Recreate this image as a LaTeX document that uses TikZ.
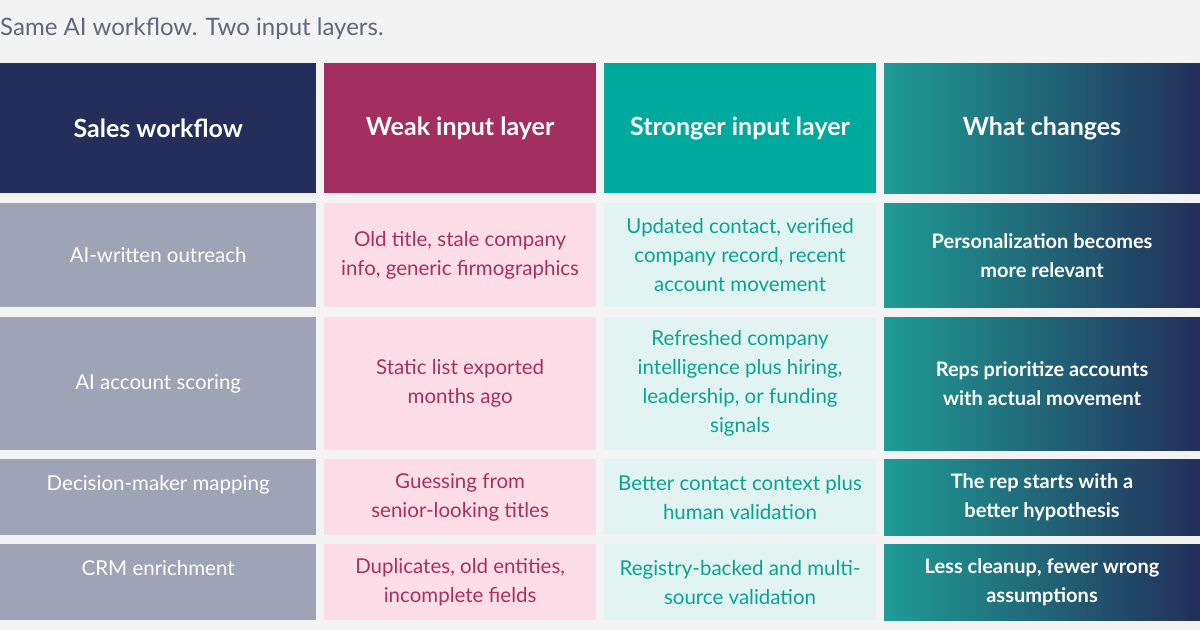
\documentclass[tikz,border=0pt]{standalone}
\usepackage{fontspec}
\setmainfont{Lato}
\usepackage{xcolor}
\definecolor{pagebg}{HTML}{F3F3F3}
\definecolor{titlegray}{HTML}{5F6680}
\definecolor{navy}{HTML}{232F5A}
\definecolor{berry}{HTML}{A32E60}
\definecolor{teal}{HTML}{00A99D}
\definecolor{tealmid}{HTML}{1F9C94}
\definecolor{rowgray}{HTML}{9EA3B5}
\definecolor{pinkbg}{HTML}{FDDDE8}
\definecolor{pinktxt}{HTML}{A8305F}
\definecolor{mintbg}{HTML}{E2F4F2}
\definecolor{minttxt}{HTML}{0AA393}

\tikzset{
  cell/.style={inner sep=0pt, align=center, font=\fontsize{20.5}{29}\selectfont},
  head/.style={cell, text=white, font=\fontsize{25}{30}\selectfont\bfseries},
  gradcell/.style={cell, text=white, left color=tealmid, right color=navy, font=\fontsize{20}{29}\selectfont\bfseries},
}
% cell: #1 name, #2 style, #3 x0, #4 x1, #5 y0, #6 y1, #7 text
\newcommand{\gridcell}[7]{%
  \node[#2, minimum width=#4-#3, minimum height=#6-#5,
        anchor=north west] (#1) at (#3,-#5) {#7};}

\begin{document}
\begin{tikzpicture}[x=1pt, y=1pt]
    \fill[pagebg] (0,0) rectangle (1200,-630);
    \node[anchor=west, text=titlegray, font=\fontsize{24}{28}\selectfont, inner sep=0pt] (title) at (0,-29) {Same AI workflow. Two input layers.};

    % header row
    \gridcell{h1}{head, fill=navy}{0}{316}{63}{193}{Sales workflow}
    \gridcell{h2}{head, fill=berry}{324}{596}{63}{193}{Weak input layer}
    \gridcell{h3}{head, fill=teal}{604}{876}{63}{193}{Stronger input layer}
    \gridcell{h4}{head, left color=tealmid, right color=navy}{884}{1200}{63}{193}{What changes}

    % row 1
    \gridcell{a1}{cell, fill=rowgray, text=white}{0}{316}{203}{307}{AI-written outreach}
    \gridcell{a2}{cell, fill=pinkbg, text=pinktxt}{324}{596}{203}{307}{Old title, stale company\\ info, generic firmographics}
    \gridcell{a3}{cell, fill=mintbg, text=minttxt}{604}{876}{203}{307}{Updated contact, verified\\ company record, recent\\ account movement}
    \gridcell{a4}{gradcell}{884}{1200}{203}{307}{Personalization becomes\\ more relevant}

    % row 2
    \gridcell{b1}{cell, fill=rowgray, text=white}{0}{316}{317}{450}{AI account scoring}
    \gridcell{b2}{cell, fill=pinkbg, text=pinktxt}{324}{596}{317}{450}{Static list exported\\ months ago}
    \gridcell{b3}{cell, fill=mintbg, text=minttxt}{604}{876}{317}{450}{Refreshed company\\ intelligence plus hiring,\\ leadership, or funding\\ signals}
    \gridcell{b4}{gradcell}{884}{1200}{317}{450}{Reps prioritize accounts\\ with actual movement}

    % row 3 (left label sits on the first line)
    \gridcell{c1}{cell, fill=rowgray, text=white}{0}{316}{459}{535}{Decision-maker mapping\\[-9pt] \strut}
    \gridcell{c2}{cell, fill=pinkbg, text=pinktxt}{324}{596}{459}{535}{Guessing from\\ senior-looking titles}
    \gridcell{c3}{cell, fill=mintbg, text=minttxt}{604}{876}{459}{535}{Better contact context plus\\ human validation}
    \gridcell{c4}{gradcell}{884}{1200}{459}{535}{The rep starts with a\\ better hypothesis}

    % row 4
    \gridcell{d1}{cell, fill=rowgray, text=white}{0}{316}{544}{620}{CRM enrichment\\[-9pt] \strut}
    \gridcell{d2}{cell, fill=pinkbg, text=pinktxt}{324}{596}{544}{620}{Duplicates, old entities,\\ incomplete fields}
    \gridcell{d3}{cell, fill=mintbg, text=minttxt}{604}{876}{544}{620}{Registry-backed and multi-\\ source validation}
    \gridcell{d4}{gradcell}{884}{1200}{544}{620}{Less cleanup, fewer wrong\\ assumptions}
\end{tikzpicture}
\end{document}
